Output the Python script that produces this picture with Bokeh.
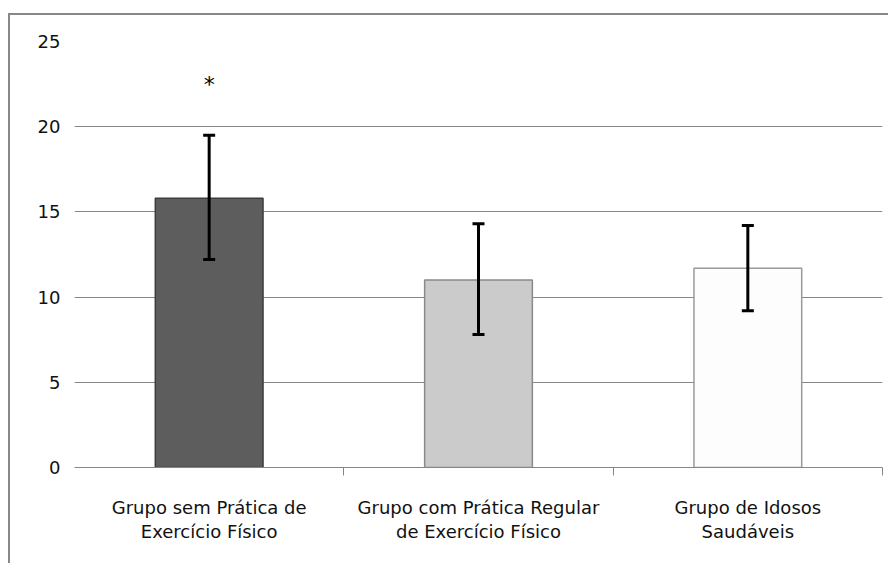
from bokeh.plotting import figure
from bokeh.models import ColumnDataSource, Range1d, FixedTicker, Whisker, TeeHead, Label
from bokeh.embed import file_html
from bokeh.resources import INLINE

# ---- data ----
categories = ["Grupo sem Prática de\nExercício Físico",
              "Grupo com Prática Regular\nde Exercício Físico",
              "Grupo de Idosos\nSaudáveis"]
means = [15.8, 11.0, 11.7]
err_lower = [12.2, 7.8, 9.2]
err_upper = [19.5, 14.3, 14.2]
y_ticks = [0, 5, 10, 15, 20, 25]
star_label = "*"
star_y = 22.5

positions = [i + 0.5 for i in range(len(categories))]
bar_fill = ["#5d5d5d", "#cbcbcb", "#fdfdfd"]
bar_line = ["#3e3e3e", "#8a8a8a", "#9a9a9a"]

src = ColumnDataSource(dict(x=positions, top=means, lower=err_lower, upper=err_upper,
                            fill=bar_fill, line=bar_line))

GRID = "#868686"
FONT = "DejaVu Sans"

p = figure(width=880, height=550, output_backend="svg", toolbar_location=None,
           x_range=Range1d(0, len(categories)), y_range=Range1d(0, 25),
           min_border_left=64, min_border_right=8, min_border_top=26, min_border_bottom=98)
p.styles = {"position": "relative", "top": "13px", "left": "8px",
            "border-left": "2px solid #888888", "border-top": "2px solid #888888"}
p.outline_line_color = None
p.background_fill_color = "white"
p.border_fill_color = "white"

# bars
p.vbar(x="x", top="top", bottom=0, width=0.4, source=src,
       fill_color="fill", line_color="line", line_width=1.5)

# error bars
wh = Whisker(base="x", lower="lower", upper="upper", source=src,
             line_color="black", line_width=3, level="annotation",
             upper_head=TeeHead(size=12, line_width=3, line_color="black"),
             lower_head=TeeHead(size=12, line_width=3, line_color="black"))
p.add_layout(wh)

# significance marker
star = Label(x=positions[0], y=star_y, text=star_label, text_align="center",
             text_baseline="middle", text_font=FONT, text_font_size="22px",
             text_color="black")
p.add_layout(star)

# grid
p.xgrid.grid_line_color = None
p.ygrid.grid_line_color = GRID
p.ygrid.grid_line_width = 1
p.ygrid.ticker = FixedTicker(ticks=y_ticks)

# y axis
p.yaxis.ticker = FixedTicker(ticks=y_ticks)
p.yaxis.axis_line_color = None
p.yaxis.major_tick_line_color = None
p.yaxis.minor_tick_line_color = None
p.yaxis.major_label_standoff = 8
p.yaxis.major_label_text_font = FONT
p.yaxis.major_label_text_font_size = "18px"
p.yaxis.major_label_text_color = "#111111"

# x axis
p.xaxis.ticker = FixedTicker(ticks=positions, minor_ticks=[1, 2, 3])
p.xaxis.major_label_overrides = {pos: lab for pos, lab in zip(positions, categories)}
p.xaxis.axis_line_color = GRID
p.xaxis.axis_line_width = 1
p.xaxis.major_tick_line_color = None
p.xaxis.major_tick_out = 0
p.xaxis.major_tick_in = 0
p.xaxis.minor_tick_line_color = GRID
p.xaxis.minor_tick_out = 8
p.xaxis.minor_tick_in = 0
p.xaxis.major_label_standoff = 21
p.xaxis.major_label_text_font = FONT
p.xaxis.major_label_text_font_size = "18px"
p.xaxis.major_label_text_color = "#111111"
p.xaxis.major_label_text_line_height = 1.15

open("out.html", "w").write(file_html(p, INLINE))
